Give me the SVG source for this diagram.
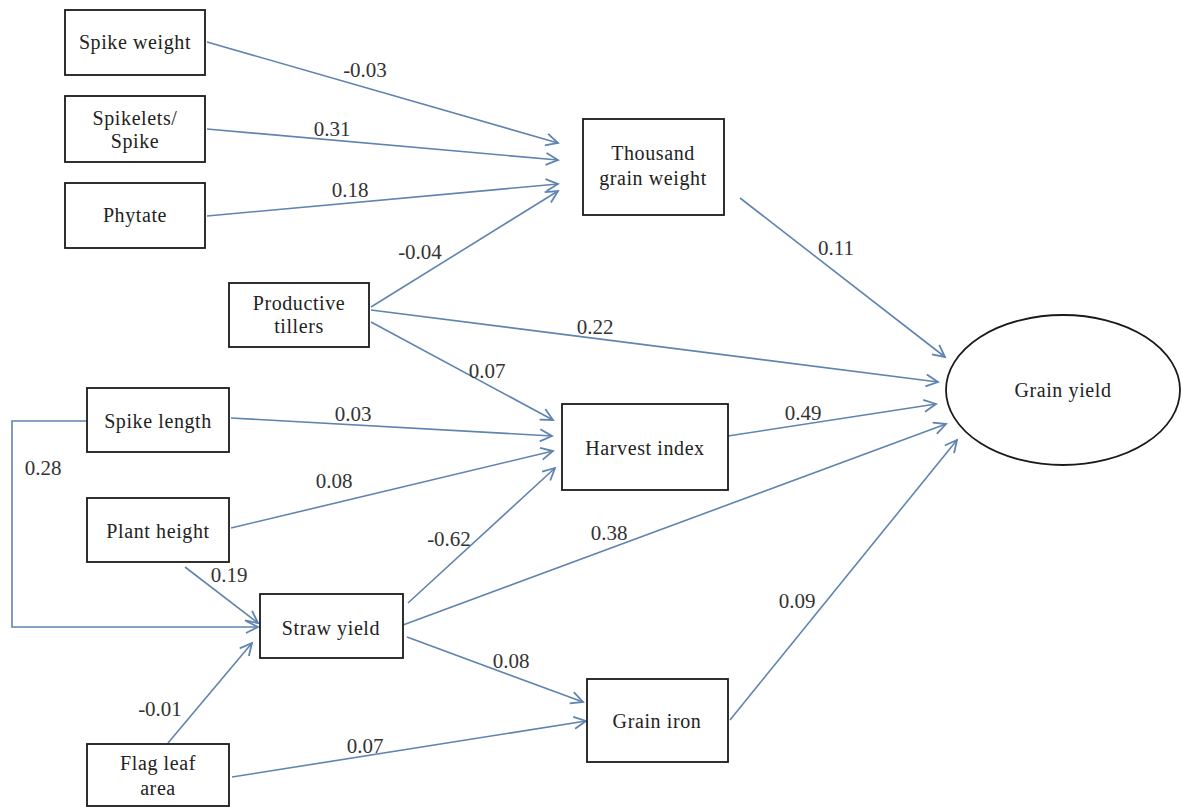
<svg xmlns="http://www.w3.org/2000/svg" width="1182" height="807" viewBox="0 0 1182 807">
<style>
.box{fill:#fff;stroke:#1a1a1a;stroke-width:1.8}
.t{font-family:"Liberation Serif","Times New Roman",serif;font-size:20px;fill:#222;text-anchor:middle;letter-spacing:0.6px}
.l{font-family:"Liberation Serif","Times New Roman",serif;font-size:21px;fill:#333;text-anchor:middle}
.c{fill:none;stroke:#5f84b0;stroke-width:1.6;marker-end:url(#ah)}
</style>
<defs>
<marker id="ah" markerUnits="userSpaceOnUse" markerWidth="16" markerHeight="16" refX="13" refY="7" orient="auto" viewBox="0 0 16 14">
<path d="M1,1 L13,7 L1,13" fill="none" stroke="#5f84b0" stroke-width="1.8"/>
</marker>
</defs>
<rect width="1182" height="807" fill="#fff"/>
<g id="connectors">
<line class="c" x1="207" y1="42" x2="558" y2="143"/>
<line class="c" x1="207" y1="129" x2="558" y2="160"/>
<line class="c" x1="207" y1="216" x2="558" y2="184"/>
<line class="c" x1="371" y1="307" x2="558" y2="191"/>
<line class="c" x1="371" y1="310" x2="938" y2="382"/>
<line class="c" x1="371" y1="322" x2="553" y2="420"/>
<line class="c" x1="231" y1="418" x2="552" y2="436"/>
<line class="c" x1="231" y1="528" x2="553" y2="451"/>
<line class="c" x1="408" y1="603" x2="555" y2="468"/>
<line class="c" x1="403" y1="625" x2="946" y2="424"/>
<line class="c" x1="407" y1="637" x2="583" y2="702"/>
<line class="c" x1="728" y1="436" x2="936" y2="404"/>
<line class="c" x1="730" y1="720" x2="957" y2="440"/>
<line class="c" x1="740" y1="198" x2="945" y2="357"/>
<line class="c" x1="232" y1="777" x2="586" y2="721"/>
<line class="c" x1="168" y1="743" x2="252" y2="643"/>
<line class="c" x1="185" y1="567" x2="258" y2="623"/>
<polyline class="c" points="87,421 12,421 12,627 258,627"/>
</g>
<g id="labels">
<text class="l" x="365" y="77">-0.03</text>
<text class="l" x="332" y="136">0.31</text>
<text class="l" x="350" y="197">0.18</text>
<text class="l" x="420" y="259">-0.04</text>
<text class="l" x="836" y="255">0.11</text>
<text class="l" x="595" y="334">0.22</text>
<text class="l" x="487" y="378">0.07</text>
<text class="l" x="353" y="421">0.03</text>
<text class="l" x="334" y="488">0.08</text>
<text class="l" x="43" y="475">0.28</text>
<text class="l" x="803" y="420">0.49</text>
<text class="l" x="449" y="546">-0.62</text>
<text class="l" x="609" y="540">0.38</text>
<text class="l" x="229" y="582">0.19</text>
<text class="l" x="797" y="608">0.09</text>
<text class="l" x="511" y="668">0.08</text>
<text class="l" x="160" y="716">-0.01</text>
<text class="l" x="365" y="753">0.07</text>
</g>
<g id="spike-weight"><rect class="box" x="65" y="10" width="140" height="65"/><text class="t" x="135" y="49">Spike weight</text></g>
<g id="spikelets"><rect class="box" x="65" y="96" width="140" height="66"/><text class="t" x="135" y="125">Spikelets/</text><text class="t" x="135" y="148">Spike</text></g>
<g id="phytate"><rect class="box" x="65" y="183" width="140" height="65"/><text class="t" x="135" y="222">Phytate</text></g>
<g id="thousand-grain-weight"><rect class="box" x="583" y="119" width="141" height="96"/><text class="t" x="653" y="160">Thousand</text><text class="t" x="653" y="185">grain weight</text></g>
<g id="productive-tillers"><rect class="box" x="229" y="283" width="140" height="64"/><text class="t" x="299" y="310">Productive</text><text class="t" x="299" y="333">tillers</text></g>
<g id="spike-length"><rect class="box" x="87" y="388" width="142" height="64"/><text class="t" x="158" y="428">Spike length</text></g>
<g id="plant-height"><rect class="box" x="87" y="498" width="142" height="64"/><text class="t" x="158" y="538">Plant height</text></g>
<g id="straw-yield"><rect class="box" x="260" y="594" width="143" height="64"/><text class="t" x="331" y="635">Straw yield</text></g>
<g id="flag-leaf-area"><rect class="box" x="87" y="744" width="142" height="62"/><text class="t" x="158" y="770">Flag leaf</text><text class="t" x="158" y="795">area</text></g>
<g id="harvest-index"><rect class="box" x="562" y="404" width="166" height="86"/><text class="t" x="645" y="455">Harvest index</text></g>
<g id="grain-iron"><rect class="box" x="587" y="679" width="141" height="83"/><text class="t" x="657" y="728">Grain iron</text></g>
<g id="grain-yield"><ellipse class="box" cx="1063" cy="390" rx="117" ry="75"/><text class="t" x="1063" y="397">Grain yield</text></g>
</svg>
